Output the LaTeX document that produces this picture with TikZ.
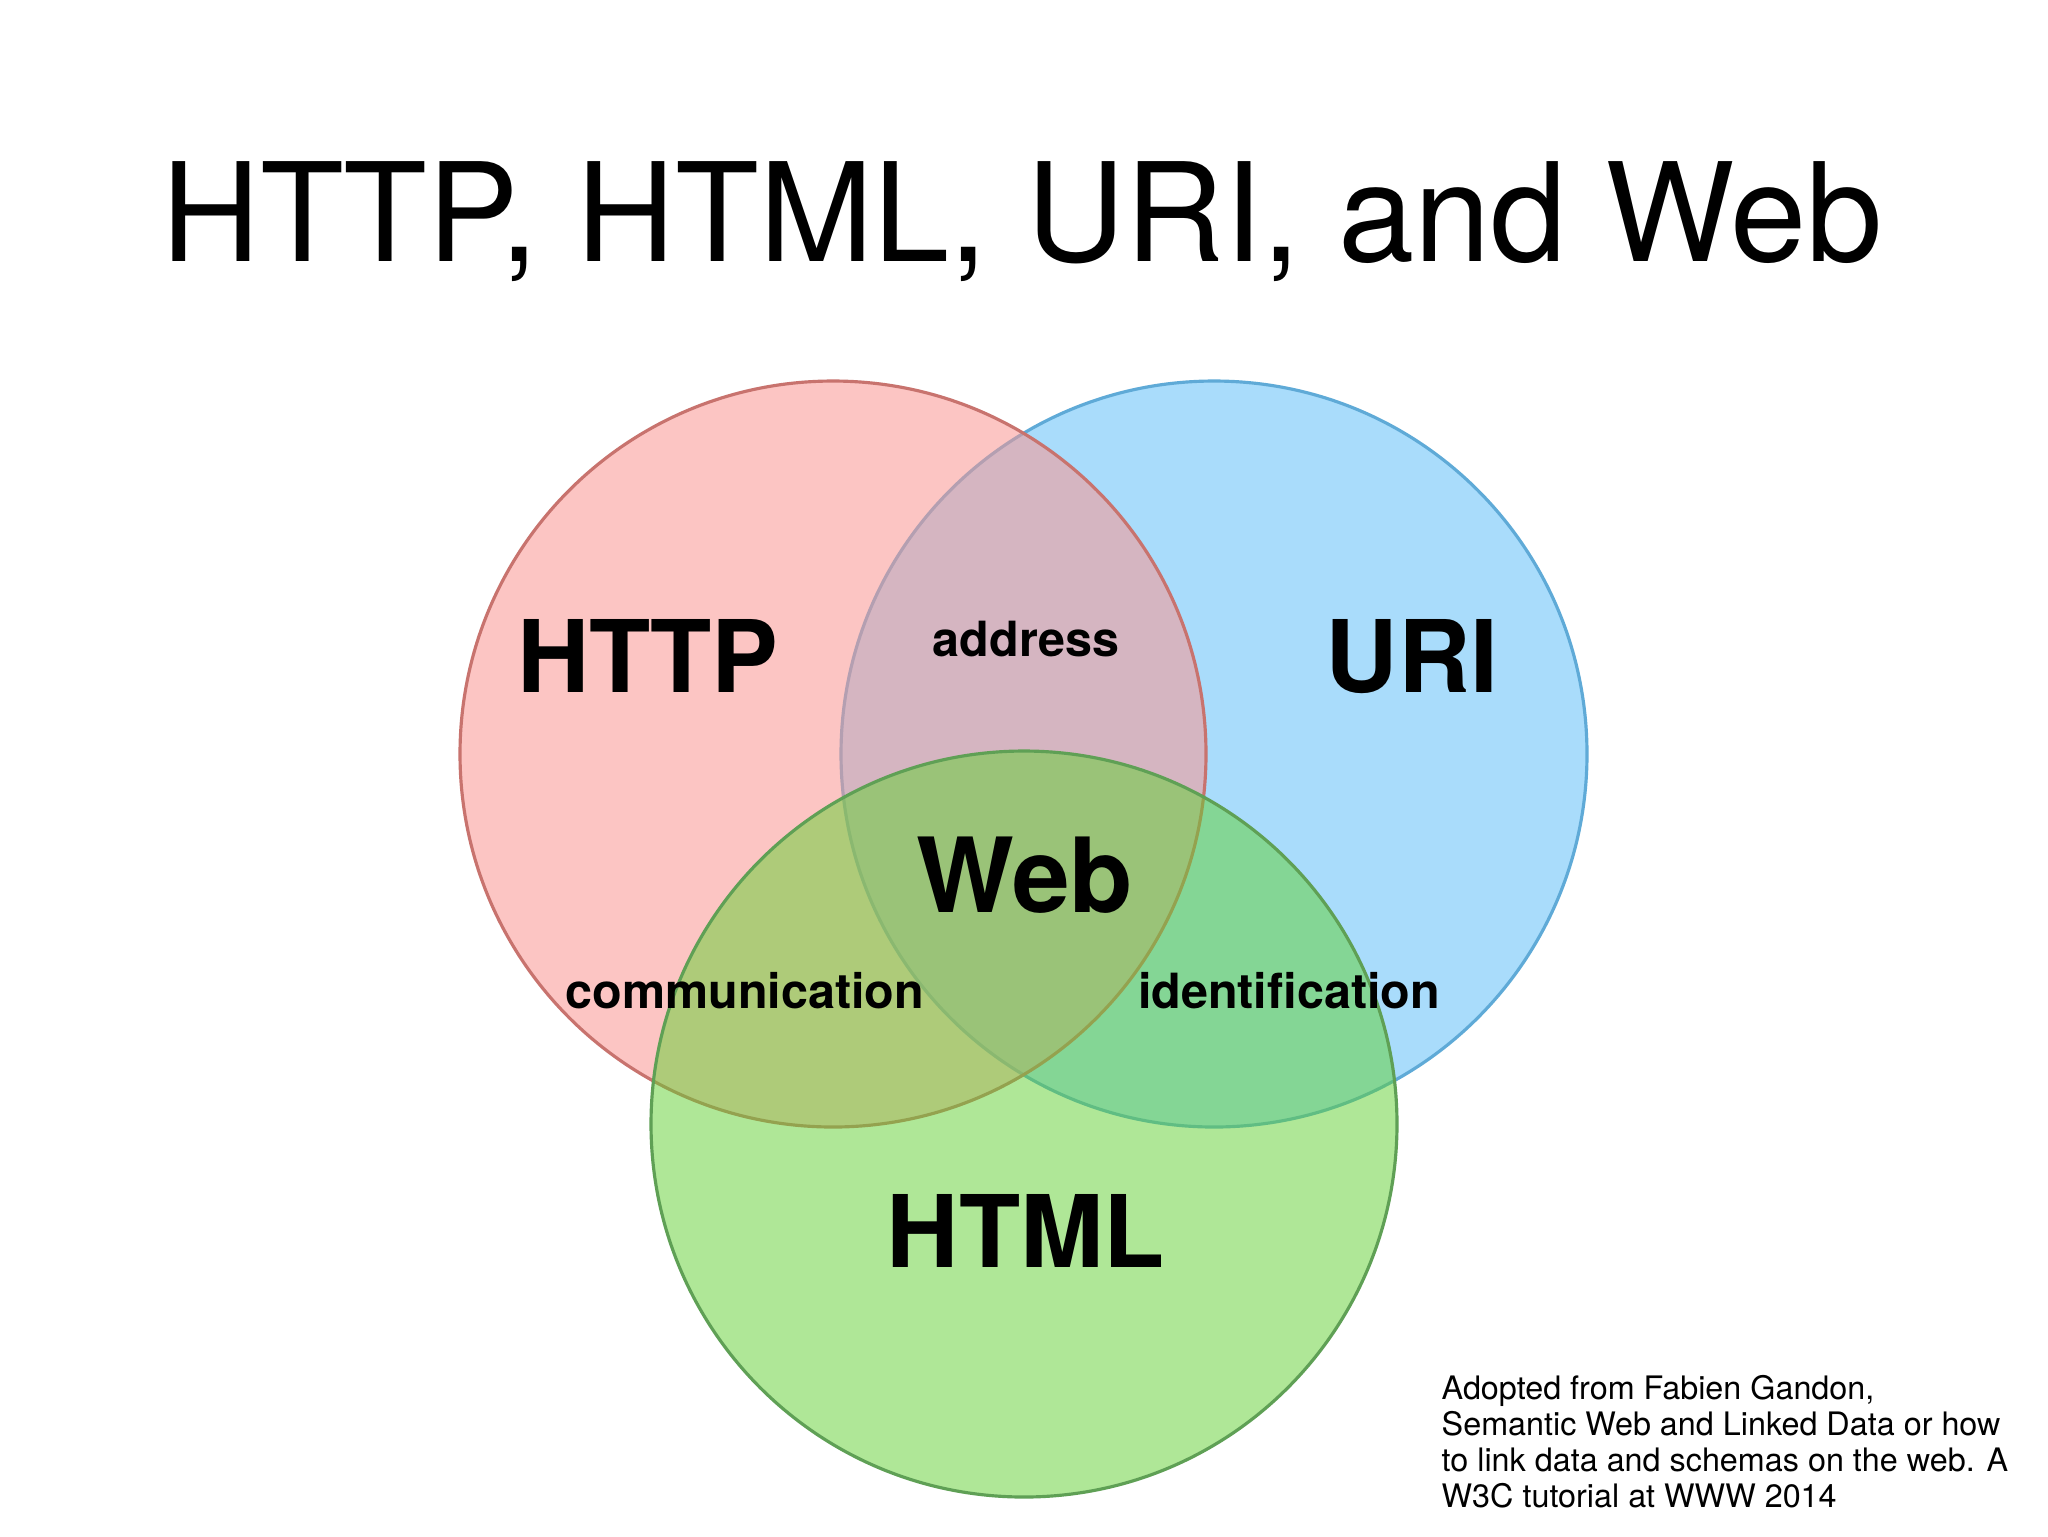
\documentclass[tikz,border=0pt]{standalone}
\usepackage{fontspec}
\setmainfont{TeX Gyre Heros}
\definecolor{redfill}{RGB}{250,150,146}
\definecolor{bluefill}{RGB}{85,187,249}
\definecolor{greenfill}{RGB}{97,209,49}
\definecolor{redline}{RGB}{200,115,110}
\definecolor{blueline}{RGB}{95,170,215}
\definecolor{greenline}{RGB}{95,160,85}
\tikzset{
  setcircle/.style={circle, inner sep=0, minimum size=74.6mm, line width=0.9pt},
  biglabel/.style={anchor=base, inner sep=0, font=\fontsize{28.5}{32}\selectfont\bfseries},
  smalllabel/.style={anchor=base, inner sep=0, font=\fontsize{13.8}{16}\selectfont\bfseries},
}
\begin{document}
\begin{tikzpicture}[x=0.1mm,y=-0.1mm]
\useasboundingbox[fill=white] (0,0) rectangle (2048,1536);
\node[anchor=base, inner sep=0, font=\fontsize{39}{44}\selectfont] (title) at (1022,261) {HTTP, HTML, URI, and Web};
\node[setcircle, fill=bluefill, fill opacity=0.5, draw=blueline] (uri) at (1214,754) {};
\node[setcircle, fill=redfill, fill opacity=0.55, draw=redline] (http) at (833,754) {};
\node[setcircle, fill=greenfill, fill opacity=0.5, draw=greenline] (html) at (1024,1124) {};
\node[biglabel] (httplbl) at (648,692) {HTTP};
\node[biglabel] (urilbl) at (1412,692) {URI};
\node[biglabel, font=\fontsize{29.5}{34}\selectfont\bfseries] (weblbl) at (1025,912) {Web};
\node[biglabel] (htmllbl) at (1026,1267) {HTML};
\node[smalllabel] (addr) at (1026,656) {address};
\node[smalllabel] (comm) at (745,1008) {communication};
\node[smalllabel] (ident) at (1289,1008) {identification};
\node[anchor=base west, inner sep=0, align=left, font=\fontsize{9.2}{10.2}\selectfont] (note) at (1441,1507) {Adopted from Fabien Gandon,\\Semantic Web and Linked Data or how\\to link data and schemas on the web. A\\W3C tutorial at WWW 2014};
\end{tikzpicture}
\end{document}
